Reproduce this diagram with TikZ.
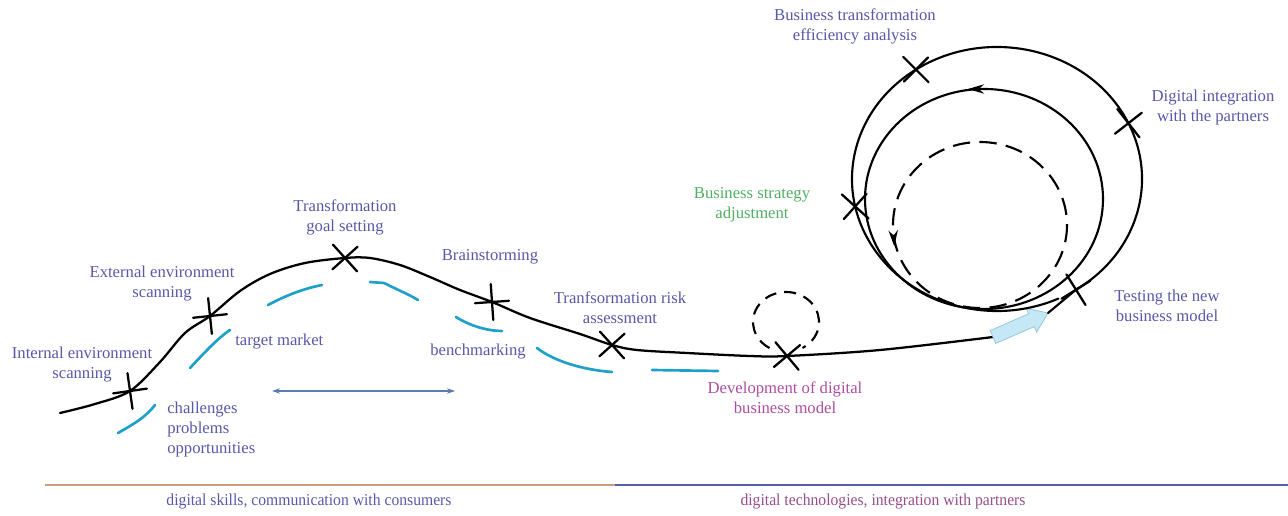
\documentclass[tikz,border=0pt]{standalone}
\usepackage{fontspec}
\setmainfont{Liberation Serif}
\usetikzlibrary{arrows.meta,decorations.markings,calc}
\definecolor{labcol}{RGB}{88,88,168}
\definecolor{devcol}{RGB}{172,78,160}
\definecolor{grncol}{RGB}{80,175,100}
\definecolor{bluedash}{RGB}{30,160,200}
\definecolor{tancol}{RGB}{200,160,128}
\definecolor{indcol}{RGB}{88,92,172}
\definecolor{botright}{RGB}{150,78,140}
\definecolor{dblarrow}{RGB}{90,125,175}
\definecolor{arrowfill}{RGB}{196,232,246}
\definecolor{arrowedge}{RGB}{150,200,220}
\tikzset{
  curveline/.style={line width=1.7pt, black, line cap=round, line join=round},
  crossline/.style={line width=1.7pt, black, line cap=round},
  loopline/.style={line width=1.6pt, black, line cap=round},
  bluestroke/.style={line width=2pt, bluedash, line cap=round},
  lab/.style={text=labcol, align=center, font=\fontsize{12.5}{15}\selectfont, inner sep=0pt},
  xcross/.pic={\draw[crossline] (-17,0)--(17,0) (0,-18)--(0,18);},
}
\begin{document}
\begin{tikzpicture}[x=0.75pt,y=-0.75pt]
\useasboundingbox (0,0) rectangle (1288,516);

% named points on the main curve
\coordinate (s0) at (60,413);
\coordinate (i1) at (130,391);
\coordinate (e1) at (210,316);
\coordinate (t1) at (345,258);
\coordinate (b1) at (492,302);
\coordinate (r1) at (612,345);
\coordinate (d1) at (787,356);
\coordinate (m1) at (993,337);
\coordinate (m2) at (1048,313);
\coordinate (c0) at (997,179);
\coordinate (n1) at ($(c0)+(57:145 and 132)$);
\coordinate (g1) at ($(c0)+(-25:145 and 132)$);
\coordinate (f1) at ($(c0)+(-124:145 and 132)$);
\coordinate (s1) at ($(c0)+(-192:145 and 132)$);
\coordinate (c1) at (984,199);
\coordinate (c2) at (980,225);
\coordinate (c3) at (786,322);

% main curve
\draw[curveline] plot[smooth,tension=0.55] coordinates {
  (s0) (95,404) (i1) (160,362) (185,333) (e1) (240,291) (270,274) (305,263) (t1)
  (370,258) (400,265) (430,277) (460,290) (b1) (530,318) (580,334) (r1) (637,350)
  (687,353) (750,356) (d1) (880,350) (m1)};

% light blue fat arrow
\filldraw[fill=arrowfill, draw=arrowedge, line width=0.6pt]
  (995.8,343.4) -- (1034.3,326.6) -- (1036.7,332.1) -- (m2) -- (1026.3,308.3)
  -- (1028.7,313.8) -- (990.2,330.6) -- cycle;

% outer spiral
\draw[loopline] (m2) -- (n1) arc[start angle=57, end angle=-295, x radius=145, y radius=132];

% inner circle with arrow at top pointing left
\draw[loopline, decoration={markings, mark=at position 0.75 with {\arrow{Stealth[length=12pt,width=7pt,reversed]}}}, postaction={decorate}]
  (c1) ellipse[x radius=119, y radius=110];

% dashed inner circle with arrow on the left pointing down
\draw[loopline, line cap=butt, dash pattern=on 13pt off 7pt, decoration={markings, mark=at position 0.49 with {\arrow[solid]{Stealth[length=12pt,width=7pt,reversed]}}}, postaction={decorate}]
  (c2) ellipse[x radius=87, y radius=83];

% small dashed circle
\draw[loopline, line cap=butt, dash pattern=on 9pt off 6pt] (c3) ++(120:33 and 30)
  arc[start angle=120, end angle=420, x radius=33, y radius=30];

% crosses
\pic[rotate=8] at (i1) {xcross};
\pic[rotate=6] at (e1) {xcross};
\pic[rotate=42] at (t1) {xcross};
\pic[rotate=4] at (b1) {xcross};
\pic[rotate=42] at (r1) {xcross};
\pic[rotate=40] at (d1) {xcross};
\pic[rotate=45] at (f1) {xcross};
\pic[rotate=38] at (g1) {xcross};
\pic[rotate=48] at (s1) {xcross};
\pic[rotate=32] at (n1) {xcross};

% blue strokes
\draw[bluestroke] (118,433) .. controls (132,425) and (145,418) .. (155,405);
\draw[bluestroke] (190,368) .. controls (205,352) and (218,338) .. (230,330);
\draw[bluestroke] (268,305) .. controls (285,296) and (302,289) .. (322,285);
\draw[bluestroke] (370,282) -- (384,283) .. controls (398,290) and (408,294) .. (418,300);
\draw[bluestroke] (456,317) .. controls (470,326) and (488,331) .. (502,331);
\draw[bluestroke] (537,348) .. controls (555,362) and (585,370) .. (612,372);
\draw[bluestroke] (652,370) -- (718,371);

% double arrow
\coordinate (da1) at (272,391);
\coordinate (da2) at (455,391);
\draw[dblarrow, line width=0.8pt, {Stealth[length=6pt,width=4pt]}-{Stealth[length=6pt,width=4pt]}] (da1) -- (da2);

% bottom lines
\coordinate (bl1) at (45,485);
\coordinate (bl2) at (615,485);
\coordinate (bl3) at (1288,485);
\draw[tancol, line width=2.2pt] (bl1) -- (bl2);
\draw[indcol, line width=2.2pt] (bl2) -- (bl3);

% labels
\node[lab] (li) at (82,365) {Internal environment\\scanning};
\node[lab] (le) at (162,284) {External environment\\scanning};
\node[lab] (lt) at (345,217) {Transformation\\goal setting};
\node[lab] (lb) at (490,257) {Brainstorming};
\node[lab] (lr) at (620,308) {Tranfsormation risk\\assessment};
\node[lab, text=devcol] (ld) at (785,398) {Development of digital\\business model};
\node[lab, text=grncol] (ls) at (752,205) {Business strategy\\adjustment};
\node[lab] (lf) at (855,26) {Business transformation\\efficiency analysis};
\node[lab] (lg) at (1213,107) {Digital integration\\with the partners};
\node[lab] (ln) at (1167,306) {Testing the new\\business model};
\node[lab, anchor=west] (ltm) at (235,342) {target market};
\node[lab, anchor=west, align=left] (lc) at (167,429) {challenges\\problems\\opportunities};
\node[lab] (lbm) at (478,352) {benchmarking};
\node[lab] (lbl) at (309,502) {\scalebox{0.94}[1]{digital skills, communication with consumers}};
\node[lab, text=botright] (lbr) at (883,502) {\scalebox{0.94}[1]{digital technologies, integration with partners}};
\end{tikzpicture}
\end{document}
